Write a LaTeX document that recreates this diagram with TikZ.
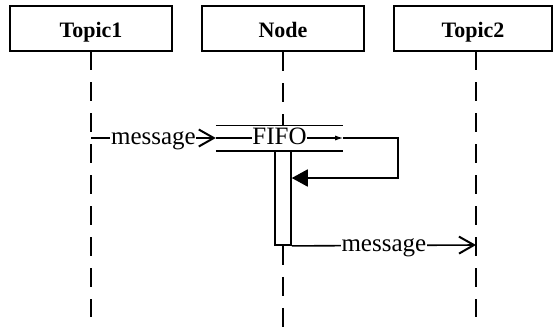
\documentclass[tikz,border=0pt]{standalone}
\usepackage{fontspec}
\setmainfont{Liberation Serif}
\usetikzlibrary{arrows.meta}
\begin{document}
\begin{tikzpicture}[x=1pt,y=-1pt,
  box/.style={draw,line width=2pt,minimum width=162pt,minimum height=45pt,inner sep=0pt,
    text height=18pt,text depth=1pt,
    font=\fontsize{22}{26}\selectfont\bfseries},
  lifeline/.style={line width=2pt,dash pattern=on 19pt off 12pt},
  msg/.style={line width=1.6pt,-{Straight Barb[length=15pt,width=17pt,line width=2pt]}},
  plain/.style={line width=1.6pt},
  fifoarrow/.style={line width=1.2pt,-{Latex[length=8pt,width=5pt]}},
  selfarrow/.style={line width=1.8pt,-{Triangle[length=16pt,width=17pt]}},
  lbl/.style={fill=white,inner sep=0.6pt,anchor=base,yshift=-6.5pt,
    font=\fontsize{25}{29}\selectfont},
  actbar/.style={draw,fill=white,line width=1.8pt,minimum width=15.7pt,minimum height=94pt,inner sep=0pt}
]
\useasboundingbox (0,0) rectangle (553,333);
% header boxes
\node[box] (t1) at (91,28.5) {Topic1};
\node[box] (n) at (283,28.5) {Node};
\node[box,minimum width=158pt] (t2) at (473,28.5) {Topic2};
% end points of lifelines
\coordinate (t1top) at (91,51);
\coordinate (t1end) at (91,317);
\coordinate (t2top) at (476,51);
\coordinate (t2end) at (476,317);
\coordinate (nend) at (283,333);
% FIFO and activation bar
\node[minimum width=127pt,minimum height=25pt,inner sep=0pt] (fifo) at (279.5,138) {};
\node[actbar] (bar) at (283,198) {};
% lifelines
\draw[lifeline] (t1top) -- (t1end);
\draw[lifeline] (t2top) -- (t2end);
\draw[lifeline] (n.south) -- (n.south |- fifo.north);
\draw[lifeline] (bar.south) -- (nend);
% FIFO lines
\draw[plain] (fifo.north west) -- (fifo.north east);
\draw[plain] (fifo.south west) -- (fifo.south east);
\draw[fifoarrow] (fifo.west) -- (fifo.east) node[midway,lbl] {FIFO};
% message 1
\coordinate (m1) at (91,138);
\draw[msg] (m1) -- (fifo.west) node[midway,lbl] {message};
% self loop
\coordinate (loopr) at (398,138);
\draw[selfarrow] (fifo.east) -- (loopr) |- (bar.east |- 0,178);
% message 2
\coordinate (m2) at (476,245);
\draw[msg] (bar.south east) -- (m2) node[midway,lbl] {message};
\end{tikzpicture}
\end{document}
